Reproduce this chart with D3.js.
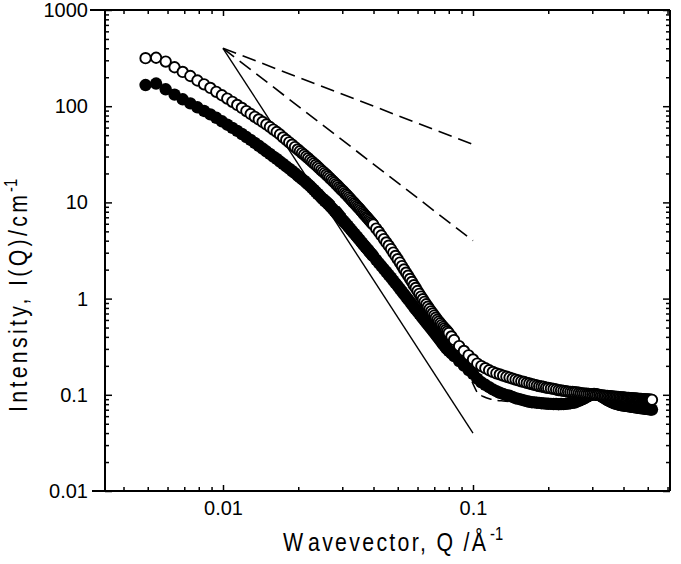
<!DOCTYPE html>
<html><head><meta charset="utf-8">
<script src="https://cdn.jsdelivr.net/npm/d3@7"></script>
<style>body{margin:0;background:#fff;} svg text{font-family:"Liberation Sans",Arial,sans-serif;fill:#000;}</style>
</head><body><svg id="c" width="681" height="564"></svg>
<script>
// ---- data ----
const q = [0.0049,0.0054,0.0059,0.0064,0.0069,0.0074,0.0079,0.0084,0.0089,0.0094,0.0099,0.0104,0.0109,0.0114,0.0119,0.0124,0.0129,0.0134,0.0139,0.0144,0.0149,0.0154,0.0159,0.0164,0.0169,0.0174,0.0179,0.0184,0.0189,0.0194,0.0199,
0.0203,0.0207,0.0211,0.0215,0.0219,0.0223,0.0227,0.0231,0.0235,0.0239,0.0243,0.0247,0.0251,0.0255,0.0259,0.0263,0.0267,0.0271,0.0275,0.0279,0.0283,0.0287,0.0291,0.0295,0.0299,0.0303,0.0307,0.0311,0.0315,0.0319,0.0323,0.0327,0.0331,0.0335,0.0339,0.0343,0.0347,0.0351,0.0355,0.0359,0.0363,0.0367,0.0371,0.0375,0.0379,0.0383,0.0387,0.0391,0.0395,0.0399,
0.041,0.042,0.043,0.044,0.045,0.046,0.047,0.048,0.049,0.050,0.051,0.052,0.053,0.054,0.055,0.056,0.057,0.058,0.059,0.060,0.061,0.062,0.063,0.064,0.065,0.066,0.067,0.068,0.069,0.070,0.071,0.072,0.073,0.074,0.075,0.076,0.077,0.078,0.079,0.080,0.082,
0.084,0.088,0.092,0.096,0.100,0.104,0.108,0.112,0.116,0.120,0.124,0.128,0.132,0.136,0.140,0.144,0.148,0.152,0.156,0.160,0.164,0.168,0.172,0.176,0.180,0.184,0.188,0.192,0.196,0.200,
0.205,0.21,0.215,0.22,0.225,0.23,0.235,0.24,0.245,0.25,0.255,0.26,0.265,0.27,0.275,0.28,0.285,0.29,0.295,0.3,0.305,0.31,0.315,0.32,0.325,0.33,0.335,0.34,0.345,0.35,0.355,0.36,0.365,0.37,0.375,0.38,0.385,0.39,0.395,0.4,0.405,0.41,0.415,0.42,0.425,0.43,0.435,0.44,0.445,0.45,0.455,0.46,0.465,0.47,0.475,0.48,0.485,0.49,0.495,0.5,0.505,0.51,0.515,0.52];

const openI = [316,319,291,254,227,206,185,169,155,141,130,120,111,103,96,89,83,77.6,72.9,68.7,64.5,60.8,57.1,53.9,50.8,47.4,44.6,42.1,39.8,37.6,35.5,
34.0,32.6,31.3,30.0,28.8,27.6,26.5,25.5,24.5,23.5,22.6,21.7,20.9,20.2,19.4,18.7,18.0,17.3,16.7,16.1,15.5,15.0,14.4,13.9,13.4,13.0,12.5,12.1,11.7,11.3,10.9,10.5,10.15,9.81,9.49,9.18,8.89,8.60,8.32,8.04,7.78,7.52,7.29,7.07,6.85,6.63,6.43,6.24,6.06,5.88,
5.35,4.93,4.53,4.16,3.84,3.55,3.27,3.01,2.78,2.57,2.37,2.18,2.01,1.86,1.73,1.60,1.49,1.38,1.29,1.20,1.12,1.05,0.986,0.926,0.873,0.824,0.780,0.738,0.701,0.666,0.634,0.603,0.578,0.554,0.531,0.509,0.491,0.473,0.456,0.439,0.404,
0.371,0.321,0.286,0.257,0.233,0.211,0.199,0.189,0.180,0.173,0.167,0.163,0.158,0.154,0.151,0.147,0.144,0.141,0.138,0.136,0.133,0.131,0.129,0.127,0.125,0.123,0.122,0.121,0.119,0.118,
0.1165,0.115,0.1135,0.112,0.111,0.110,0.109,0.108,0.1075,0.107,0.1065,0.106,0.105,0.104,0.1035,0.103,0.1025,0.102,0.1015,0.101,0.1005,0.100,0.0997,0.0993,0.0988,0.0983,0.0980,0.0976,0.0972,0.0969,0.0966,0.0962,0.0958,0.0955,0.0952,0.0949,0.0946,0.0942,0.0940,0.0937,0.0934,0.0931,0.0928,0.0926,0.0924,0.0922,0.0920,0.0918,0.0916,0.0913,0.0911,0.0909,0.0906,0.0904,0.0902,0.0900,0.0898,0.0896,0.0895,0.0894,0.0892,0.0890,0.0889,0.0887];

const filledI = [166,172,150,132,118,107,97.4,89.2,82.2,75.8,69.7,64.2,59.5,55.4,51.4,47.8,44.6,41.5,38.8,36.3,34.0,31.9,29.9,28.3,26.6,25.1,23.7,22.4,21.2,20.1,19.0,
18.2,17.5,16.8,16.1,15.4,14.8,14.1,13.5,12.9,12.3,11.8,11.3,10.8,10.4,10.0,9.63,9.25,8.89,8.52,8.16,7.82,7.50,7.21,6.93,6.66,6.41,6.18,5.95,5.72,5.50,5.30,5.10,4.91,4.73,4.57,4.41,4.26,4.11,3.96,3.82,3.69,3.57,3.45,3.34,3.23,3.13,3.03,2.94,2.85,2.76,
2.53,2.34,2.18,2.03,1.89,1.76,1.65,1.54,1.44,1.35,1.26,1.18,1.11,1.04,0.980,0.924,0.869,0.818,0.774,0.733,0.694,0.658,0.625,0.593,0.564,0.537,0.512,0.488,0.464,0.442,0.422,0.403,0.385,0.367,0.351,0.335,0.321,0.307,0.297,0.287,0.269,
0.253,0.224,0.201,0.181,0.165,0.147,0.135,0.127,0.120,0.114,0.109,0.105,0.102,0.0990,0.0976,0.0949,0.0922,0.0907,0.0890,0.0875,0.0860,0.0846,0.0838,0.0834,0.0828,0.0824,0.0818,0.0814,0.0810,0.0806,
0.0805,0.0801,0.0803,0.0798,0.0801,0.0800,0.0804,0.0812,0.0818,0.0824,0.0829,0.0848,0.0866,0.0885,0.0904,0.0924,0.0949,0.0974,0.0995,0.1012,0.1019,0.1016,0.1008,0.0990,0.0968,0.0946,0.0922,0.0902,0.0883,0.0866,0.0848,0.0832,0.0822,0.0812,0.0804,0.0795,0.0787,0.0782,0.0778,0.0774,0.0770,0.0767,0.0763,0.0760,0.0756,0.0752,0.0749,0.0745,0.0742,0.0740,0.0736,0.0733,0.0729,0.0728,0.0724,0.0723,0.0719,0.0717,0.0714,0.0712,0.0709,0.0707,0.0704,0.0702];

// model fit (dashed) for the filled data
const fitQ = [0.02,0.03,0.04,0.05,0.06,0.07,0.08,0.09,0.095,0.1,0.104,0.11,0.117,0.125,0.132,0.14,0.16,0.2,0.25,0.3,0.4,0.52];
const fitI = [19.0,8.2,2.76,1.35,0.66,0.40,0.287,0.205,0.170,0.130,0.106,0.096,0.0905,0.0875,0.0862,0.0850,0.0830,0.0805,0.0815,0.0880,0.0770,0.0705];

// power-law guide lines from Q = 0.01 to 0.1
const guideQ = [0.01, 0.1];
const slopeMinus1 = [400, 40];
const slopeMinus2 = [400, 4];
const slopeMinus4 = [400, 0.04];

const xMajorTicks = [0.01, 0.1];
const xTickLabels = ["0.01", "0.1"];
const xMinorTicks = [0.004,0.005,0.006,0.007,0.008,0.009,0.02,0.03,0.04,0.05,0.06,0.07,0.08,0.09,0.2,0.3,0.4,0.5,0.6];
const yMajorTicks = [0.01, 0.1, 1, 10, 100, 1000];
const yTickLabels = ["0.01", "0.1", "1", "10", "100", "1000"];
const yMinorTicks = [];
[0.01,0.1,1,10,100].forEach(b => [2,3,4,5,6,7,8,9].forEach(m => yMinorTicks.push(+(b*m).toPrecision(3))));

// ---- drawing ----
const L = 105, R = 670, T = 10, B = 491;
const svg = d3.select("#c");
svg.append("rect").attr("width", 681).attr("height", 564).attr("fill", "#fff");

const x = d3.scaleLog().domain([0.003373, 0.6138]).range([L, R]);
const y = d3.scaleLog().domain([0.01, 1000]).range([B, T]);

const line = d3.line().x(d => x(d[0])).y(d => y(d[1]));

// guide lines
svg.append("path").attr("d", line(d3.zip(guideQ, slopeMinus4)))
  .attr("fill", "none").attr("stroke", "#000").attr("stroke-width", 1.4);
[slopeMinus1, slopeMinus2].forEach(arr => {
  svg.append("path").attr("d", line(d3.zip(guideQ, arr)))
    .attr("fill", "none").attr("stroke", "#000").attr("stroke-width", 1.6)
    .attr("stroke-dasharray", "14,7");
});

// fit curve
svg.append("path").attr("d", line.curve(d3.curveMonotoneX)(d3.zip(fitQ, fitI)))
  .attr("fill", "none").attr("stroke", "#000").attr("stroke-width", 1.5)
  .attr("stroke-dasharray", "11,6");

// filled markers
svg.append("g").selectAll("circle").data(d3.zip(q, filledI)).join("circle")
  .attr("cx", d => x(d[0])).attr("cy", d => y(d[1])).attr("r", 6.2).attr("fill", "#000");

// open markers
svg.append("g").selectAll("circle").data(d3.zip(q, openI)).join("circle")
  .attr("cx", d => x(d[0])).attr("cy", d => y(d[1])).attr("r", 5.2)
  .attr("fill", "#fff").attr("stroke", "#000").attr("stroke-width", 1.9);

// axes
function styleAxis(g) {
  g.select(".domain").remove();
  g.selectAll(".tick line").attr("stroke", "#000").attr("stroke-width", 1.5);
  g.attr("font-size", 20).attr("font-family", '"Liberation Sans", Arial, sans-serif');
  g.selectAll("text").attr("fill", "#000");
}
svg.append("g").attr("transform", `translate(0,${B})`)
  .call(d3.axisBottom(x).tickValues(xMinorTicks).tickSize(-4).tickFormat("")).call(styleAxis);
svg.append("g").attr("transform", `translate(0,${B})`)
  .call(d3.axisBottom(x).tickValues(xMajorTicks).tickSize(-6).tickPadding(10)
    .tickFormat((d, i) => xTickLabels[i])).call(styleAxis);
svg.append("g").attr("transform", `translate(0,${T})`)
  .call(d3.axisTop(x).tickValues(xMinorTicks).tickSize(-4).tickFormat("")).call(styleAxis);
svg.append("g").attr("transform", `translate(0,${T})`)
  .call(d3.axisTop(x).tickValues(xMajorTicks).tickSize(-6).tickFormat("")).call(styleAxis);
svg.append("g").attr("transform", `translate(${L},0)`)
  .call(d3.axisLeft(y).tickValues(yMinorTicks).tickSize(-4).tickFormat("")).call(styleAxis);
svg.append("g").attr("transform", `translate(${L},0)`)
  .call(d3.axisLeft(y).tickValues(yMajorTicks).tickSize(-7).tickPadding(17)
    .tickFormat((d, i) => yTickLabels[i])).call(styleAxis);
svg.append("g").attr("transform", `translate(${R},0)`)
  .call(d3.axisRight(y).tickValues(yMinorTicks).tickSize(-4).tickFormat("")).call(styleAxis);
svg.append("g").attr("transform", `translate(${R},0)`)
  .call(d3.axisRight(y).tickValues(yMajorTicks).tickSize(-7).tickFormat("")).call(styleAxis);

// frame
const frame = svg.append("g").attr("stroke", "#000").attr("stroke-width", 2);
frame.append("line").attr("x1", L - 15).attr("x2", R).attr("y1", T).attr("y2", T);
frame.append("line").attr("x1", L - 13).attr("x2", R).attr("y1", B).attr("y2", B);
frame.append("line").attr("x1", L).attr("x2", L).attr("y1", T).attr("y2", B);
frame.append("line").attr("x1", R).attr("x2", R).attr("y1", T).attr("y2", B);

// axis titles
const sx = 0.82;
svg.append("text").attr("transform", `translate(283,551) scale(${sx},1)`)
  .attr("font-size", 26).text("W");
svg.append("text").attr("transform", `translate(308,551) scale(${sx},1)`)
  .attr("font-size", 26).attr("textLength", 178 / sx).attr("lengthAdjust", "spacing")
  .text("avevector, Q /Å");
svg.append("text").attr("transform", `translate(490,540) scale(${sx},1)`)
  .attr("font-size", 18).text("-1");

svg.append("text").attr("transform", `translate(27,412) rotate(-90) scale(${sx},1)`)
  .attr("font-size", 26).attr("textLength", 217 / sx).attr("lengthAdjust", "spacing")
  .text("Intensity, I(Q)/cm");
svg.append("text").attr("transform", `translate(17,192) rotate(-90) scale(${sx},1)`)
  .attr("font-size", 18).text("-1");
</script>
</body></html>
